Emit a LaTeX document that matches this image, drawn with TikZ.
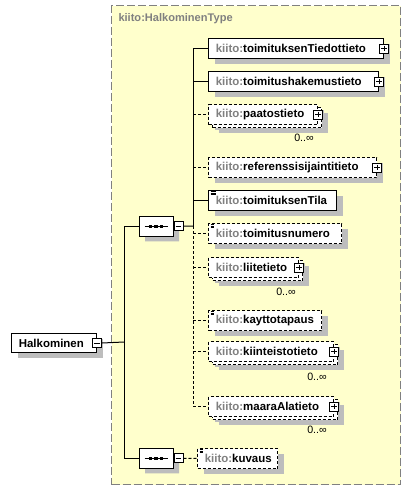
\documentclass[tikz,border=0pt]{standalone}
\usepackage{fontspec}
\setmainfont{Liberation Sans}
\usetikzlibrary{shapes.misc,shadows,positioning}

\definecolor{schemabg}{HTML}{FFFFCC}
\definecolor{shadowgray}{HTML}{BDBDBD}
\definecolor{prefixgray}{HTML}{808080}
\newcommand{\kiito}[1]{{\color{prefixgray}kiito:}#1}

\tikzset{
  opt/.style={dash pattern=on 2.25pt off 1.5pt},
  typebox/.style={draw=prefixgray,fill=schemabg,dash pattern=on 6pt off 2.25pt,
    anchor=north west,minimum width=216.75pt,minimum height=359.25pt,inner sep=0pt},
  typename/.style={anchor=west,inner sep=0pt,text=prefixgray,
    font=\fontsize{8.3}{10}\selectfont\bfseries},
  elem/.style={draw,fill=white,anchor=north west,minimum height=15pt,
    inner xsep=5.5pt,inner ysep=0pt,align=left,
    font=\fontsize{8.6}{10}\selectfont\bfseries,
    general shadow={fill=shadowgray,shadow xshift=4.5pt,shadow yshift=-3.75pt}},
  multi/.style={general shadow={fill=shadowgray,shadow xshift=7.5pt,shadow yshift=-6pt},
    general shadow={draw=black,fill=white,opt,shadow xshift=3pt,shadow yshift=-2.25pt}},
  simple/.style={path picture={
    \foreach \dy in {1.2,2.6,4}
      \draw[line width=0.45pt] ([shift={(2,\dy)}]path picture bounding box.north west) -- ++(5,0);}},
  mult/.style={inner sep=0pt,font=\fontsize{8}{10}\selectfont},
  plusbox/.style={draw,fill=white,minimum size=6.75pt,inner sep=0pt,path picture={
    \draw ([xshift=1.3pt]path picture bounding box.west) -- ([xshift=-1.3pt]path picture bounding box.east);
    \draw ([yshift=-1.3pt]path picture bounding box.north) -- ([yshift=1.3pt]path picture bounding box.south);}},
  minusbox/.style={draw,fill=white,minimum size=6.75pt,inner sep=0pt,path picture={
    \draw ([xshift=1.3pt]path picture bounding box.west) -- ([xshift=-1.3pt]path picture bounding box.east);}},
  seq/.style={chamfered rectangle,chamfered rectangle xsep=3.75pt,chamfered rectangle ysep=3.75pt,
    draw,fill=white,anchor=north west,minimum width=25.5pt,minimum height=15pt,inner sep=0pt,
    general shadow={fill=shadowgray,shadow xshift=4.5pt,shadow yshift=-3.75pt}}
}

\begin{document}
\begin{tikzpicture}[x=0.75pt,y=-0.75pt,line width=0.75pt]
  \useasboundingbox (0,0) rectangle (411,490);
  %complex type frame
  \node[typebox] (halktype) at (111,5) {};
  \node[typename] (typelabel) at (118,19) {kiito:HalkominenType};
  %root element
  \node[elem,text width=52.75pt,minimum height=14.25pt] (halk) at (11,333) {Halkominen};
  \node[minusbox] (halkminus) at (halk.east) {};
  %sequences
  \node[seq] (seqA) at (139,216) {};
  \node[minusbox,right=0pt of seqA] (seqAminus) {};
  \node[seq] (seqB) at (139,448) {};
  \node[minusbox,right=0pt of seqB] (seqBminus) {};
  \foreach \s in {seqA,seqB} {
    \draw ([xshift=4.5pt]\s.west) -- ([xshift=-4.5pt]\s.east);
    \foreach \dx in {-4,0,4}
      \fill ([xshift=\dx pt]\s.center) +(-1.6,-1.6) rectangle +(1.6,1.6);
  }
  %children of the first sequence
  \node[elem,text width=120.25pt] (tiedot) at (208,38) {\kiito{toimituksenTiedottieto}};
  \node[elem,text width=116.5pt] (hakemus) at (208,71) {\kiito{toimitushakemustieto}};
  \node[elem,multi,opt,text width=70.75pt] (paatos) at (208,104) {\kiito{paatostieto}};
  \node[elem,opt,text width=115pt] (referenssi) at (208,157) {\kiito{referenssisijaintitieto}};
  \node[elem,simple,text width=85pt] (tila) at (208,190) {\kiito{toimituksenTila}};
  \node[elem,simple,opt,text width=88.75pt] (numero) at (208,223) {\kiito{toimitusnumero}};
  \node[elem,multi,opt,text width=56.5pt] (liite) at (208,257) {\kiito{liitetieto}};
  \node[elem,simple,opt,text width=73.75pt] (kaytto) at (208,310) {\kiito{kayttotapaus}};
  \node[elem,multi,opt,text width=82.75pt] (kiinteisto) at (208,341) {\kiito{kiinteistotieto}};
  \node[elem,multi,opt,text width=82.75pt] (maaraala) at (208,396) {\kiito{maaraAlatieto}};
  %child of the second sequence
  \node[elem,simple,opt,text width=49pt] (kuvaus) at (197,448) {\kiito{kuvaus}};
  \foreach \n in {tiedot,hakemus,paatos,referenssi,liite,kiinteisto,maaraala}
    \node[plusbox] (\n plus) at (\n.east) {};
  %occurrences
  \node[mult] (paatosmult) at ([shift={(-14,13)}]paatos.south east) {0..∞};
  \node[mult] (liitemult) at ([shift={(-13,14)}]liite.south east) {0..∞};
  \node[mult] (kiinteistomult) at ([shift={(-17,15)}]kiinteisto.south east) {0..∞};
  \node[mult] (maaraalamult) at ([shift={(-17,13)}]maaraala.south east) {0..∞};
  %connectors
  \coordinate (trunk) at (124,342);
  \coordinate (branch) at (193,226);
  \draw (halkminus.east) -- (trunk);
  \draw (seqA.west) -- (seqA.west -| trunk) -- (seqB.west -| trunk) -- (seqB.west);
  \draw (seqAminus.east) -- (branch);
  \draw (branch) -- (branch |- tiedot.west);
  \draw[opt] (branch) -- (branch |- maaraala.west);
  \foreach \n in {tiedot,hakemus,tila}
    \draw (branch |- \n.west) -- (\n.west);
  \foreach \n in {paatos,referenssi,numero,liite,kaytto,kiinteisto,maaraala}
    \draw[opt] (branch |- \n.west) -- (\n.west);
  \draw[opt] (seqBminus.east) -- (kuvaus.west);
\end{tikzpicture}
\end{document}
